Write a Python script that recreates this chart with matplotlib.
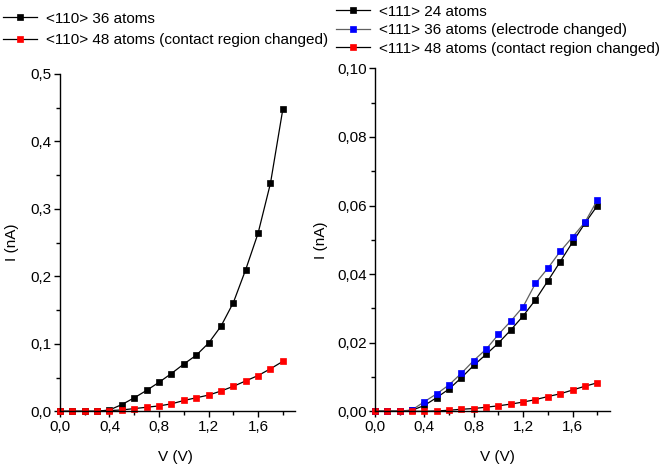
import numpy as np
import matplotlib.pyplot as plt
from matplotlib.ticker import MultipleLocator, FuncFormatter

plt.rcParams.update({
    'font.family': ['Liberation Sans', 'DejaVu Sans'],
    'font.size': 11,
    'axes.linewidth': 1.0,
})

# Bias voltage (V)
voltage = [0.0, 0.1, 0.2, 0.3, 0.4, 0.5, 0.6, 0.7, 0.8, 0.9,
           1.0, 1.1, 1.2, 1.3, 1.4, 1.5, 1.6, 1.7, 1.8]

# <110> wires, current (nA)
i110_36 = [0.0, 0.0, 0.0, 0.0, 0.002, 0.010, 0.020, 0.031, 0.043, 0.056,
           0.070, 0.083, 0.101, 0.126, 0.161, 0.210, 0.264, 0.338, 0.448]
i110_48 = [0.0, 0.0, 0.0, 0.0, 0.001, 0.002, 0.004, 0.006, 0.008, 0.011,
           0.016, 0.020, 0.024, 0.030, 0.037, 0.045, 0.053, 0.063, 0.074]

# <111> wires, current (nA)
i111_24 = [0.0, 0.0, 0.0, 0.0003, 0.0017, 0.0040, 0.0065, 0.0098, 0.0134, 0.0166,
           0.0199, 0.0237, 0.0278, 0.0325, 0.0380, 0.0436, 0.0493, 0.0548, 0.0599]
i111_36 = [0.0, 0.0, 0.0, 0.0004, 0.0028, 0.0051, 0.0077, 0.0111, 0.0148, 0.0181,
           0.0224, 0.0263, 0.0305, 0.0373, 0.0417, 0.0466, 0.0508, 0.0551, 0.0615]
i111_48 = [0.0, 0.0, 0.0, 0.0, 0.0, 0.0001, 0.0003, 0.0006, 0.0008, 0.0012,
           0.0016, 0.0021, 0.0027, 0.0034, 0.0043, 0.0051, 0.0062, 0.0073, 0.0083]


def comma(fmt):
    return FuncFormatter(lambda v, pos: format(v, fmt).replace('.', ','))


def style_axes(ax, ymax, ymajor, yfmt):
    ax.set_xlim(0, 1.9)
    ax.set_ylim(0, ymax)
    ax.spines['top'].set_visible(False)
    ax.spines['right'].set_visible(False)
    ax.xaxis.set_major_locator(MultipleLocator(0.4))
    ax.xaxis.set_minor_locator(MultipleLocator(0.2))
    ax.yaxis.set_major_locator(MultipleLocator(ymajor))
    ax.yaxis.set_minor_locator(MultipleLocator(ymajor / 2))
    ax.xaxis.set_major_formatter(comma('.1f'))
    ax.yaxis.set_major_formatter(comma(yfmt))
    ax.tick_params(which='major', direction='out', length=4, width=1.0,
                   labelsize=11, pad=2)
    ax.tick_params(which='minor', direction='out', length=3, width=1.0)
    ax.set_xlabel('V (V)', fontsize=11)
    ax.set_ylabel('I (nA)', fontsize=11)


def plot_series(ax, y, face, line, label):
    ax.plot(voltage, y, '-', color=line, lw=0.9, marker='s', ms=5,
            mfc=face, mec=face, mew=0.5, label=label, clip_on=False)


fig = plt.figure(figsize=(6.59, 4.65), dpi=100)
ax1 = fig.add_axes([0.091, 0.1155, 0.357, 0.7254])
ax2 = fig.add_axes([0.569, 0.1155, 0.356, 0.7376])

plot_series(ax1, i110_36, 'black', 'black', '<110> 36 atoms')
plot_series(ax1, i110_48, 'red', 'black', '<110> 48 atoms (contact region changed)')
style_axes(ax1, 0.5, 0.1, '.1f')
ax1.xaxis.set_label_coords(0.49, -0.115)
ax1.yaxis.set_label_coords(-0.175, 0.5)

plot_series(ax2, i111_24, 'black', 'black', '<111> 24 atoms')
plot_series(ax2, i111_36, 'blue', '#606060', '<111> 36 atoms (electrode changed)')
plot_series(ax2, i111_48, 'red', 'black', '<111> 48 atoms (contact region changed)')
style_axes(ax2, 0.10, 0.02, '.2f')
ax2.xaxis.set_label_coords(0.52, -0.113)
ax2.yaxis.set_label_coords(-0.2, 0.5)

leg_kw = dict(frameon=False, fontsize=11, handlelength=2.2, handletextpad=0.6,
              borderaxespad=0, borderpad=0, markerscale=1.0)
fig.legend(*ax1.get_legend_handles_labels(), loc='upper left',
           bbox_to_anchor=(0.005, 0.975), labelspacing=0.5, **leg_kw)
fig.legend(*ax2.get_legend_handles_labels(), loc='upper left',
           bbox_to_anchor=(0.51, 0.99), labelspacing=0.3, **leg_kw)

fig.savefig('out.png', dpi=100, facecolor='white')
